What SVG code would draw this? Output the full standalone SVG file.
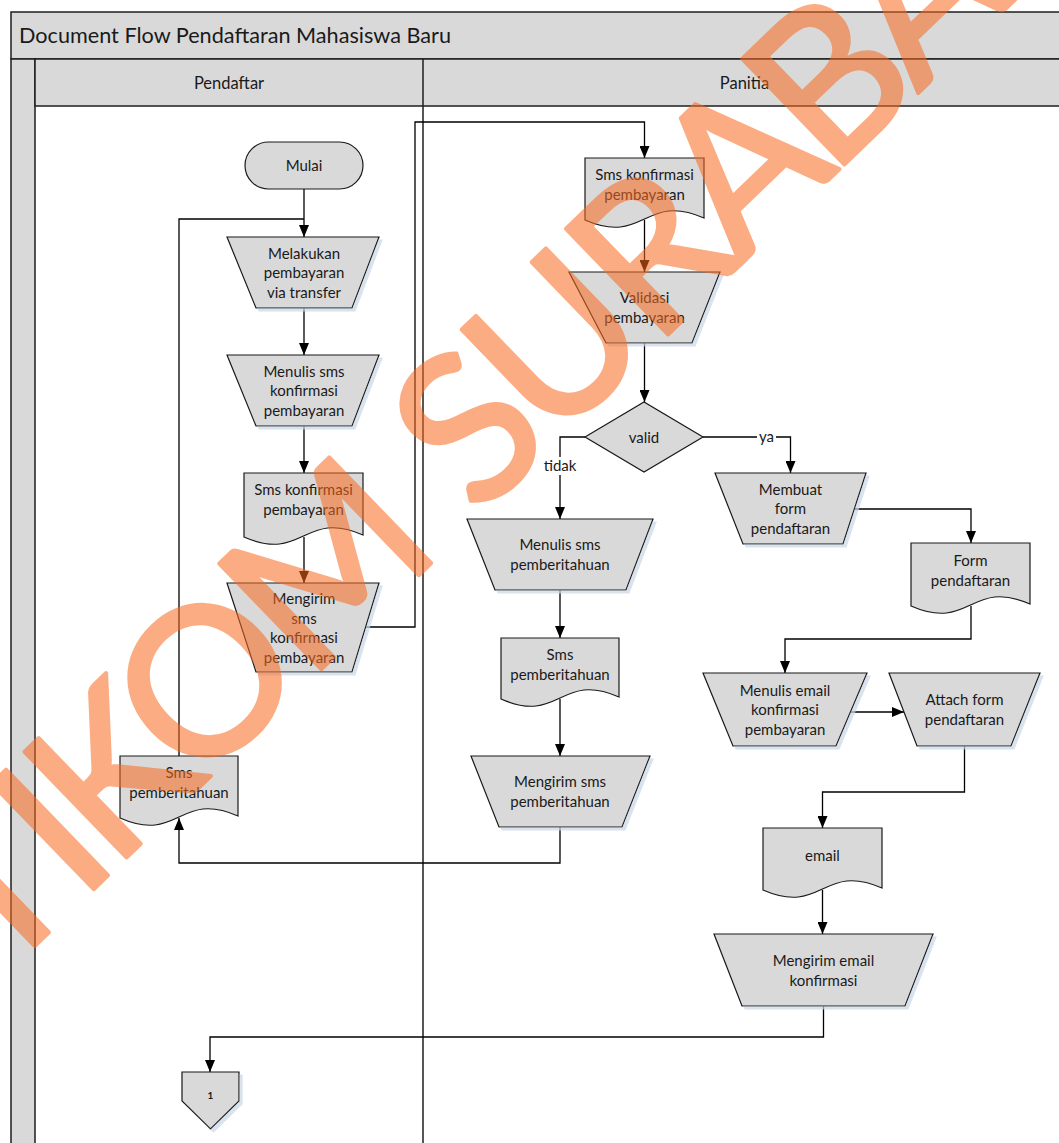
<svg xmlns="http://www.w3.org/2000/svg" width="1059" height="1143" viewBox="0 0 1059 1143">
  <defs>
    <style>
      .frame { fill: #d9d9d9; stroke: #1e1e1e; stroke-width: 1.5; }
      .line { stroke: #1e1e1e; stroke-width: 1.5; fill: none; }
      .shape { fill: #d9d9d9; stroke: #1a1a1a; stroke-width: 1.2; }
      .lbl { font-family: Lato, "Liberation Sans", sans-serif; font-size: 15px; fill: #1a1a1a; text-anchor: middle; }
      .hdr { font-family: Lato, "Liberation Sans", sans-serif; font-size: 16.5px; fill: #1a1a1a; text-anchor: middle; }
      .title { font-family: Lato, "Liberation Sans", sans-serif; font-size: 21px; fill: #1a1a1a; }
      .conn { fill: none; stroke: #000000; stroke-width: 1.3; }
      .tag { fill: #ffffff; stroke: none; }
      .wm { font-family: Lato, "Liberation Sans", sans-serif; font-size: 205px; fill: #f86a1e; stroke: #f86a1e; stroke-width: 4; stroke-linejoin: round; text-anchor: middle; }
    </style>
    <marker id="arrow" markerUnits="userSpaceOnUse" markerWidth="12" markerHeight="10" refX="12" refY="5" orient="auto">
      <path d="M0,0 L12,5 L0,10 z" fill="#000000"/>
    </marker>
    <filter id="sh" x="-5%" y="-5%" width="115%" height="120%">
      <feOffset in="SourceAlpha" dx="3" dy="3" result="off"/>
      <feFlood flood-color="#c9d6e6" flood-opacity="0.7"/>
      <feComposite in2="off" operator="in" result="shadow"/>
      <feMerge>
        <feMergeNode in="shadow"/>
        <feMergeNode in="SourceGraphic"/>
      </feMerge>
    </filter>
  </defs>

  <rect width="1059" height="1143" fill="#ffffff"/>

  <!-- Pool and swimlanes -->
  <g id="pool">
    <rect class="frame" x="11" y="12" width="1070" height="47"/>
    <text class="title" x="19" y="43" textLength="432" lengthAdjust="spacingAndGlyphs">Document Flow Pendaftaran Mahasiswa Baru</text>
    <rect class="frame" x="11" y="59" width="24" height="1100"/>
    <rect class="frame" x="35" y="59" width="1046" height="47"/>
    <line class="line" x1="423" y1="59" x2="423" y2="1150"/>
    <text class="hdr" x="229" y="89">Pendaftar</text>
    <text class="hdr" x="744.5" y="89">Panitia</text>
  </g>

  <!-- Connectors -->
  <g id="connectors">
    <path class="conn" d="M304,189 V237" marker-end="url(#arrow)"/>
    <path class="conn" d="M179,756 V219 H304"/>
    <path class="conn" d="M304,308 V355" marker-end="url(#arrow)"/>
    <path class="conn" d="M304,426 V473" marker-end="url(#arrow)"/>
    <path class="conn" d="M304,537 V583" marker-end="url(#arrow)"/>
    <path class="conn" d="M366,627 H415 V122 H644.5 V158" marker-end="url(#arrow)"/>
    <path class="conn" d="M644.5,220 V272" marker-end="url(#arrow)"/>
    <path class="conn" d="M644.5,343 V402" marker-end="url(#arrow)"/>
    <path class="conn" d="M585,437 H560 V519" marker-end="url(#arrow)"/>
    <path class="conn" d="M703,437 H790.5 V473" marker-end="url(#arrow)"/>
    <path class="conn" d="M560,590 V638" marker-end="url(#arrow)"/>
    <path class="conn" d="M560,699 V756" marker-end="url(#arrow)"/>
    <path class="conn" d="M560,827 V863 H179 V818" marker-end="url(#arrow)"/>
    <path class="conn" d="M854,509 H971 V543" marker-end="url(#arrow)"/>
    <path class="conn" d="M971,606 V639 H785 V673" marker-end="url(#arrow)"/>
    <path class="conn" d="M850,712 H904" marker-end="url(#arrow)"/>
    <path class="conn" d="M964.5,746 V792 H822.5 V828" marker-end="url(#arrow)"/>
    <path class="conn" d="M822.5,890 V934" marker-end="url(#arrow)"/>
    <path class="conn" d="M823.5,1006 V1037 H210 V1072" marker-end="url(#arrow)"/>
    <!-- branch labels -->
    <rect class="tag" x="543" y="457" width="34" height="18"/>
    <text class="lbl" x="560" y="471">tidak</text>
    <rect class="tag" x="757" y="429" width="19" height="17"/>
    <text class="lbl" x="766.5" y="442">ya</text>
  </g>

  <!-- Pendaftar lane -->
  <g id="mulai">
    <rect class="shape" x="245" y="142" width="118" height="47" rx="23.5"/>
    <text class="lbl" x="304" y="171">Mulai</text>
  </g>
  <g id="melakukan-pembayaran">
    <polygon class="shape" filter="url(#sh)" points="227,237 379,237 352,308 256,308"/>
    <text class="lbl" x="304" y="258.5">Melakukan</text>
    <text class="lbl" x="304" y="278">pembayaran</text>
    <text class="lbl" x="304" y="297.5">via transfer</text>
  </g>
  <g id="menulis-sms-konfirmasi">
    <polygon class="shape" filter="url(#sh)" points="227,355 379,355 352,426 256,426"/>
    <text class="lbl" x="304" y="376.5">Menulis sms</text>
    <text class="lbl" x="304" y="396">konfirmasi</text>
    <text class="lbl" x="304" y="415.5">pembayaran</text>
  </g>
  <g id="doc-sms-konfirmasi-1">
    <path class="shape" d="M244,473 H363 V535 C303.5,509 303.5,563 244,537 Z"/>
    <text class="lbl" x="303.5" y="495">Sms konfirmasi</text>
    <text class="lbl" x="303.5" y="515">pembayaran</text>
  </g>
  <g id="mengirim-sms-konfirmasi">
    <polygon class="shape" filter="url(#sh)" points="227,583 379,583 352,672 256,672"/>
    <text class="lbl" x="304" y="604">Mengirim</text>
    <text class="lbl" x="304" y="623.5">sms</text>
    <text class="lbl" x="304" y="643">konfirmasi</text>
    <text class="lbl" x="304" y="662.5">pembayaran</text>
  </g>
  <g id="doc-sms-pemberitahuan-1">
    <path class="shape" d="M120,756 H238 V816 C179,790 179,844 120,818 Z"/>
    <text class="lbl" x="179" y="778">Sms</text>
    <text class="lbl" x="179" y="798">pemberitahuan</text>
  </g>
  <g id="offpage-1">
    <polygon class="shape" filter="url(#sh)" points="182,1072 239,1072 239,1101 210.5,1129 182,1101"/>
    <text x="210.5" y="1098.5" font-family="Lato, 'Liberation Sans', sans-serif" font-size="10" font-weight="bold" text-anchor="middle" fill="#1a1a1a">1</text>
  </g>

  <!-- Panitia lane -->
  <g id="doc-sms-konfirmasi-2">
    <path class="shape" d="M585,158 H704 V218 C644.5,192 644.5,246 585,220 Z"/>
    <text class="lbl" x="644.5" y="180">Sms konfirmasi</text>
    <text class="lbl" x="644.5" y="200">pembayaran</text>
  </g>
  <g id="validasi-pembayaran">
    <polygon class="shape" filter="url(#sh)" points="569,272 720,272 692,343 606,343"/>
    <text class="lbl" x="644.5" y="303">Validasi</text>
    <text class="lbl" x="644.5" y="322.5">pembayaran</text>
  </g>
  <g id="valid">
    <polygon class="shape" points="585,437 644,402 703,437 644,472"/>
    <text class="lbl" x="644" y="442.5">valid</text>
  </g>
  <g id="menulis-sms-pemberitahuan">
    <polygon class="shape" filter="url(#sh)" points="467,519 653,519 626,590 495,590"/>
    <text class="lbl" x="560" y="550">Menulis sms</text>
    <text class="lbl" x="560" y="569.5">pemberitahuan</text>
  </g>
  <g id="doc-sms-pemberitahuan-2">
    <path class="shape" d="M501,638 H619 V697 C560,671 560,725 501,699 Z"/>
    <text class="lbl" x="560" y="660">Sms</text>
    <text class="lbl" x="560" y="680">pemberitahuan</text>
  </g>
  <g id="mengirim-sms-pemberitahuan">
    <polygon class="shape" filter="url(#sh)" points="471,756 650,756 622,827 499,827"/>
    <text class="lbl" x="560" y="787">Mengirim sms</text>
    <text class="lbl" x="560" y="806.5">pemberitahuan</text>
  </g>
  <g id="membuat-form">
    <polygon class="shape" filter="url(#sh)" points="715,473 866,473 843,544 743,544"/>
    <text class="lbl" x="790.5" y="494.5">Membuat</text>
    <text class="lbl" x="790.5" y="514">form</text>
    <text class="lbl" x="790.5" y="533.5">pendaftaran</text>
  </g>
  <g id="doc-form-pendaftaran">
    <path class="shape" d="M911,543 H1030 V604 C970.5,578 970.5,632 911,606 Z"/>
    <text class="lbl" x="970.5" y="566">Form</text>
    <text class="lbl" x="970.5" y="586">pendaftaran</text>
  </g>
  <g id="menulis-email">
    <polygon class="shape" filter="url(#sh)" points="703,673 867,673 836,746 733,746"/>
    <text class="lbl" x="785" y="695.5">Menulis email</text>
    <text class="lbl" x="785" y="715">konfirmasi</text>
    <text class="lbl" x="785" y="734.5">pembayaran</text>
  </g>
  <g id="attach-form">
    <polygon class="shape" filter="url(#sh)" points="889,673 1040,673 1011,746 917,746"/>
    <text class="lbl" x="964.5" y="705">Attach form</text>
    <text class="lbl" x="964.5" y="724.5">pendaftaran</text>
  </g>
  <g id="doc-email">
    <path class="shape" d="M763,828 H882 V888 C822.5,862 822.5,916 763,890 Z"/>
    <text class="lbl" x="822.5" y="861">email</text>
  </g>
  <g id="mengirim-email">
    <polygon class="shape" filter="url(#sh)" points="714,934 933,934 905,1006 742,1006"/>
    <text class="lbl" x="823.5" y="966">Mengirim email</text>
    <text class="lbl" x="823.5" y="985.5">konfirmasi</text>
  </g>

  <!-- Watermark: each glyph placed by its centre along the rotated baseline -->
  <g id="watermark" opacity="0.55">
    <text class="wm" transform="translate(-57,1050) rotate(-44)" x="43 148 230 315 445 613 700 810 932 1064 1188 1311 1435 1553 1672" y="-11">STIKOM SURABAYA</text>
  </g>
</svg>
